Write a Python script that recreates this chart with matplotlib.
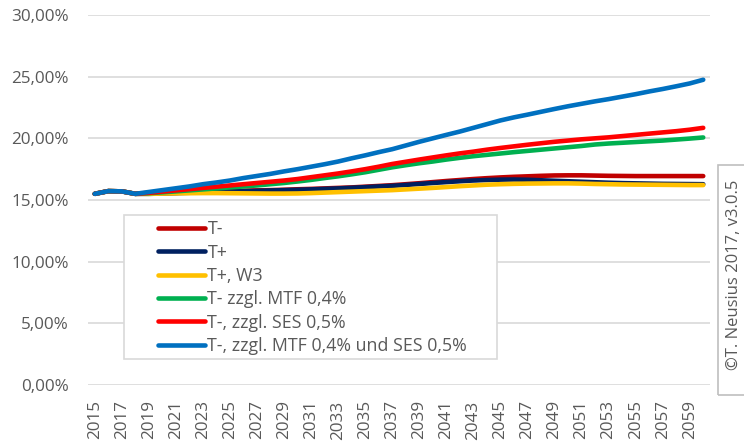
import numpy as np
import matplotlib
matplotlib.use("Agg")
import matplotlib.pyplot as plt
from matplotlib.ticker import FuncFormatter, MultipleLocator
from matplotlib.patches import Rectangle

years = list(range(2015, 2061))

t_minus = [15.50, 15.72, 15.70, 15.50, 15.52, 15.55, 15.58, 15.62, 15.65, 15.68,
           15.72, 15.75, 15.78, 15.80, 15.83, 15.87, 15.90, 15.94, 15.98, 16.02,
           16.08, 16.14, 16.20, 16.28, 16.36, 16.45, 16.54, 16.62, 16.70, 16.77,
           16.83, 16.88, 16.92, 16.96, 16.99, 17.00, 17.00, 16.98, 16.96, 16.95,
           16.94, 16.94, 16.94, 16.94, 16.94, 16.94]
t_plus = [15.50, 15.72, 15.70, 15.50, 15.50, 15.53, 15.56, 15.59, 15.62, 15.65,
          15.68, 15.71, 15.74, 15.77, 15.80, 15.83, 15.86, 15.90, 15.94, 15.99,
          16.04, 16.10, 16.15, 16.22, 16.30, 16.38, 16.45, 16.52, 16.58, 16.62,
          16.65, 16.66, 16.64, 16.60, 16.56, 16.52, 16.48, 16.44, 16.40, 16.37,
          16.35, 16.33, 16.31, 16.30, 16.29, 16.28]
t_plus_w3 = [15.50, 15.72, 15.70, 15.50, 15.50, 15.52, 15.54, 15.55, 15.56, 15.56,
             15.55, 15.54, 15.53, 15.52, 15.52, 15.53, 15.56, 15.60, 15.64, 15.68,
             15.72, 15.76, 15.80, 15.86, 15.92, 15.98, 16.05, 16.12, 16.18, 16.24,
             16.28, 16.31, 16.33, 16.34, 16.35, 16.35, 16.33, 16.30, 16.28, 16.26,
             16.25, 16.24, 16.23, 16.22, 16.21, 16.21]
t_mtf = [15.50, 15.72, 15.70, 15.50, 15.55, 15.62, 15.70, 15.78, 15.86, 15.94,
         16.02, 16.10, 16.18, 16.28, 16.38, 16.50, 16.63, 16.78, 16.92, 17.08,
         17.25, 17.45, 17.65, 17.82, 17.98, 18.12, 18.28, 18.42, 18.55, 18.66,
         18.77, 18.88, 18.98, 19.08, 19.18, 19.28, 19.38, 19.50, 19.58, 19.64,
         19.70, 19.76, 19.82, 19.90, 19.98, 20.07]
t_ses = [15.50, 15.72, 15.70, 15.50, 15.58, 15.68, 15.78, 15.88, 15.98, 16.08,
         16.18, 16.28, 16.38, 16.48, 16.58, 16.70, 16.85, 17.00, 17.15, 17.32,
         17.50, 17.70, 17.92, 18.10, 18.28, 18.45, 18.62, 18.78, 18.92, 19.08,
         19.22, 19.35, 19.48, 19.60, 19.72, 19.82, 19.92, 20.00, 20.08, 20.18,
         20.28, 20.38, 20.48, 20.58, 20.70, 20.85]
t_mtf_ses = [15.50, 15.72, 15.70, 15.50, 15.65, 15.80, 15.95, 16.10, 16.28, 16.42,
             16.58, 16.78, 16.95, 17.12, 17.32, 17.50, 17.70, 17.90, 18.12, 18.38,
             18.62, 18.88, 19.12, 19.42, 19.72, 20.00, 20.28, 20.55, 20.85, 21.15,
             21.45, 21.70, 21.92, 22.15, 22.38, 22.60, 22.80, 23.00, 23.18, 23.38,
             23.58, 23.80, 24.00, 24.22, 24.45, 24.75]

series = [
    ("T-", t_minus, "#C00000"),
    ("T+", t_plus, "#002060"),
    ("T+, W3", t_plus_w3, "#FFC000"),
    ("T- zzgl. MTF 0,4%", t_mtf, "#00B050"),
    ("T-, zzgl. SES 0,5%", t_ses, "#FF0000"),
    ("T-, zzgl. MTF 0,4% und SES 0,5%", t_mtf_ses, "#0070C0"),
]

plt.rcParams["font.family"] = ["Open Sans", "DejaVu Sans"]
txt_color = "#595959"
grid_color = "#D9D9D9"

fig = plt.figure(figsize=(7.44, 4.41), dpi=100)
ax = fig.add_axes([88 / 744, 1 - 385 / 441, 622 / 744, 370 / 441])

x = np.arange(len(years))
handles = []
for i, (name, vals, col) in enumerate(series):
    h, = ax.plot(x, vals, color=col, lw=3.3, solid_capstyle="round",
                 solid_joinstyle="round", label=name, zorder=3 + i)
    handles.append(h)

ax.set_xlim(-0.5, len(years) - 0.5)
ax.set_ylim(0, 30)
ax.yaxis.set_major_locator(MultipleLocator(5))
ax.yaxis.set_major_formatter(FuncFormatter(lambda v, p: f"{v:.2f}%".replace(".", ",")))
ax.set_xticks(x[::2])
ax.set_xticklabels([str(y) for y in years[::2]], rotation=90)
ax.grid(axis="y", color=grid_color, lw=1.2)
ax.set_axisbelow(True)
for s in ax.spines.values():
    s.set_visible(False)
ax.tick_params(length=0, labelsize=12.3, labelcolor=txt_color)
ax.tick_params(axis="y", pad=14)
ax.tick_params(axis="x", pad=11)

# legend box
fig.patches.append(Rectangle((124 / 744, 1 - 359 / 441), (497 - 124) / 744, (359 - 215) / 441,
                             transform=fig.transFigure, fill=True, facecolor="white",
                             edgecolor=grid_color, lw=1.2, zorder=10))
leg = fig.legend(handles=handles, loc="upper left",
                 bbox_to_anchor=(144 / 744, 1 - 206 / 441), bbox_transform=fig.transFigure,
                 frameon=False, fontsize=12.8, handlelength=2.65, handletextpad=0.12,
                 labelspacing=0.3, borderpad=0.3, labelcolor=txt_color)
leg.set_zorder(11)

# copyright box
fig.patches.append(Rectangle((718 / 744, 1 - 395 / 441), 40 / 744, (395 - 165) / 441,
                             transform=fig.transFigure, fill=False,
                             edgecolor="#BFBFBF", lw=1.2))
fig.text(734 / 744, 1 - 275 / 441, "©T. Neusius 2017, v3.0.5", rotation=90,
         ha="center", va="center", fontsize=12, color=txt_color)

fig.savefig("out.png", dpi=100)
